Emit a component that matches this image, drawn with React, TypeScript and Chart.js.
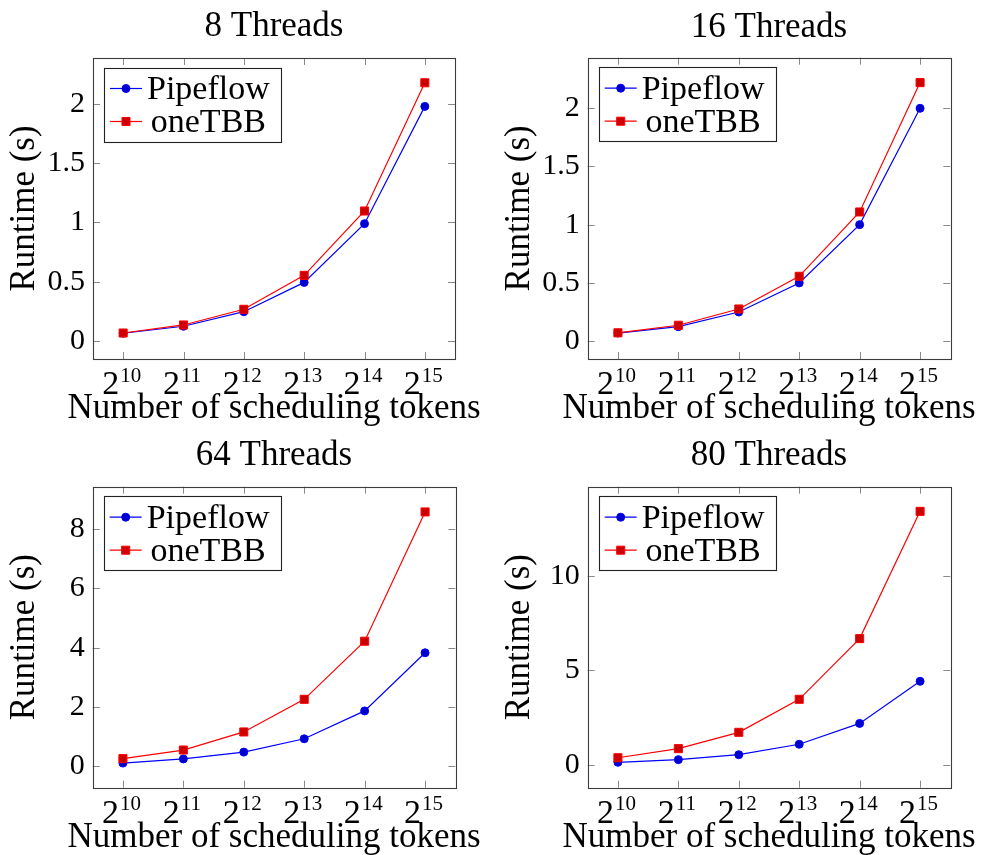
import React, { useEffect, useRef } from 'react';
import { Chart, registerables } from 'chart.js';

Chart.register(...registerables);

// ---------- data ----------
const tokenBase = '2';
const tokenExponents = ['10', '11', '12', '13', '14', '15'];
const tokenLabels = tokenExponents.map((e) => `${tokenBase}^${e}`);
const seriesNames = ['Pipeflow', 'oneTBB'];
const panelTitles = ['8 Threads', '16 Threads', '64 Threads', '80 Threads'];
const yAxisTitle = 'Runtime (s)';
const xAxisTitle = 'Number of scheduling tokens';

const pipeflow8 = [0.065, 0.124, 0.247, 0.494, 0.989, 1.978];
const onetbb8 = [0.067, 0.135, 0.267, 0.553, 1.096, 2.177];
const pipeflow16 = [0.068, 0.123, 0.249, 0.499, 1.0, 2.0];
const onetbb16 = [0.07, 0.135, 0.275, 0.556, 1.109, 2.221];
const pipeflow64 = [0.11, 0.25, 0.48, 0.93, 1.87, 3.83];
const onetbb64 = [0.26, 0.55, 1.16, 2.26, 4.22, 8.58];
const pipeflow80 = [0.16, 0.3, 0.56, 1.11, 2.21, 4.43];
const onetbb80 = [0.4, 0.88, 1.74, 3.48, 6.68, 13.39];

const yTicks8 = [0, 0.5, 1, 1.5, 2];
const yTicks16 = [0, 0.5, 1, 1.5, 2];
const yTicks64 = [0, 2, 4, 6, 8];
const yTicks80 = [0, 5, 10];

const yRange8 = [-0.152, 2.386];
const yRange16 = [-0.155, 2.435];
const yRange64 = [-0.72, 9.43];
const yRange80 = [-1.18, 14.69];

// ---------- styling / layout ----------
const FONT = "'Liberation Serif', 'Times New Roman', serif";
const BLUE = '#0000ff';
const BLUE_FILL = '#0000cc';
const RED = '#ff0000';
const RED_FILL = '#cc0000';

type PanelCfg = {
  title: string;
  pipeflow: number[];
  onetbb: number[];
  yTicks: number[];
  yRange: number[];
  left: number;
  top: number;
  width: number;
  height: number;
  areaLeft: number;
  areaRight: number;
  areaTop: number;
  areaBottom: number;
  titleBaseline: number;
  yTitleMid: number;
};

const panels: PanelCfg[] = [
  {
    title: panelTitles[0], pipeflow: pipeflow8, onetbb: onetbb8, yTicks: yTicks8, yRange: yRange8,
    left: 0, top: 0, width: 491, height: 430,
    areaLeft: 93, areaRight: 455, areaTop: 58, areaBottom: 359, titleBaseline: 39, yTitleMid: 25.2,
  },
  {
    title: panelTitles[1], pipeflow: pipeflow16, onetbb: onetbb16, yTicks: yTicks16, yRange: yRange16,
    left: 491, top: 0, width: 491, height: 430,
    areaLeft: 96.7, areaRight: 459.3, areaTop: 57.7, areaBottom: 359, titleBaseline: 39.3, yTitleMid: 28.9,
  },
  {
    title: panelTitles[2], pipeflow: pipeflow64, onetbb: onetbb64, yTicks: yTicks64, yRange: yRange64,
    left: 0, top: 430, width: 491, height: 425,
    areaLeft: 92.7, areaRight: 455.3, areaTop: 56.7, areaBottom: 357.7, titleBaseline: 37.3, yTitleMid: 25.2,
  },
  {
    title: panelTitles[3], pipeflow: pipeflow80, onetbb: onetbb80, yTicks: yTicks80, yRange: yRange80,
    left: 491, top: 430, width: 491, height: 425,
    areaLeft: 96.7, areaRight: 459.3, areaTop: 56.7, areaBottom: 357.7, titleBaseline: 37.3, yTitleMid: 28.9,
  },
];

const TITLE_SIZE = 35;
const TICK_SIZE = 30;
const XBASE_SIZE = 34;
const XEXP_SIZE = 21;
const LEGEND_SIZE = 34;

const decorPlugin = {
  id: 'pgfDecor',
  beforeDatasetsDraw(chart: any) {
    const { ctx, chartArea: a, scales } = chart;
    const x = scales.x;
    const y = scales.y;
    const L = 7;
    ctx.save();
    ctx.strokeStyle = '#8a8a8a';
    ctx.lineWidth = 1;
    ctx.beginPath();
    x.ticks.forEach((_t: any, i: number) => {
      const px = Math.round(x.getPixelForTick(i)) + 0.5;
      ctx.moveTo(px, a.bottom);
      ctx.lineTo(px, a.bottom - L);
      ctx.moveTo(px, a.top);
      ctx.lineTo(px, a.top + L);
    });
    y.ticks.forEach((t: any) => {
      const py = Math.round(y.getPixelForValue(t.value)) + 0.5;
      ctx.moveTo(a.left, py);
      ctx.lineTo(a.left + L, py);
      ctx.moveTo(a.right, py);
      ctx.lineTo(a.right - L, py);
    });
    ctx.stroke();
    ctx.restore();
  },
  afterDatasetsDraw(chart: any) {
    const { ctx, chartArea: a } = chart;
    ctx.save();
    // frame
    ctx.strokeStyle = '#3c3c3c';
    ctx.lineWidth = 1.1;
    ctx.strokeRect(Math.round(a.left) + 0.5, Math.round(a.top) + 0.5, Math.round(a.right - a.left), Math.round(a.bottom - a.top));

    // legend
    const bx = a.left + 11;
    const by = a.top + 9.5;
    ctx.font = `${LEGEND_SIZE}px ${FONT}`;
    const textW = Math.max(...seriesNames.map((s) => ctx.measureText(s).width));
    const bw = 43 + textW + 11;
    const bh = 74;
    ctx.fillStyle = '#ffffff';
    ctx.fillRect(bx, by, bw, bh);
    ctx.strokeStyle = '#222222';
    ctx.lineWidth = 1.1;
    ctx.strokeRect(Math.round(bx) + 0.5, Math.round(by) + 0.5, Math.round(bw), Math.round(bh));
    const rows = [by + 21, by + 54];
    const ds = chart.data.datasets;
    rows.forEach((ry, i) => {
      const d = ds[i];
      ctx.strokeStyle = d.borderColor;
      ctx.lineWidth = 1.2;
      ctx.beginPath();
      ctx.moveTo(bx + 6, ry);
      ctx.lineTo(bx + 38, ry);
      ctx.stroke();
      ctx.fillStyle = d.pointBackgroundColor;
      ctx.strokeStyle = d.pointBorderColor;
      ctx.lineWidth = 1;
      const mx = bx + 22;
      ctx.beginPath();
      if (d.pointStyle === 'rect') {
        const s = d.pointRadius * Math.SQRT1_2;
        ctx.rect(mx - s, ry - s, 2 * s, 2 * s);
      } else {
        ctx.arc(mx, ry, d.pointRadius, 0, Math.PI * 2);
      }
      ctx.fill();
      ctx.stroke();
      ctx.fillStyle = '#000000';
      ctx.textAlign = 'center';
      ctx.textBaseline = 'alphabetic';
      ctx.fillText(seriesNames[i], bx + 43 + textW / 2, ry + 10.5);
    });
    ctx.restore();
  },
  afterDraw(chart: any) {
    const { ctx, chartArea: a, scales } = chart;
    const x = scales.x;
    ctx.save();
    ctx.fillStyle = '#000000';
    ctx.textBaseline = 'alphabetic';
    ctx.textAlign = 'left';
    // x tick labels: base with raised exponent
    x.ticks.forEach((_t: any, i: number) => {
      const px = x.getPixelForTick(i);
      ctx.font = `${XBASE_SIZE}px ${FONT}`;
      const wb = ctx.measureText(tokenBase).width;
      ctx.font = `${XEXP_SIZE}px ${FONT}`;
      const we = ctx.measureText(tokenExponents[i]).width;
      const start = px - 1.5 - (wb + 1 + we) / 2;
      ctx.font = `${XBASE_SIZE}px ${FONT}`;
      ctx.fillText(tokenBase, start, a.bottom + 35);
      ctx.font = `${XEXP_SIZE}px ${FONT}`;
      ctx.fillText(tokenExponents[i], start + wb + 1, a.bottom + 22.5);
    });
    // x axis title
    ctx.font = `${TITLE_SIZE}px ${FONT}`;
    ctx.textAlign = 'center';
    ctx.fillText(xAxisTitle, (a.left + a.right) / 2, a.bottom + 59.3);
    ctx.restore();
  },
};

function Panel({ cfg }: { cfg: PanelCfg }) {
  const ref = useRef<HTMLCanvasElement | null>(null);
  useEffect(() => {
    if (!ref.current) return;
    const titleLH = TITLE_SIZE * 1.2;
    const titlePadTop = cfg.titleBaseline - 0.3375 * TITLE_SIZE - titleLH / 2;
    const titlePadBottom = cfg.areaTop - titleLH - titlePadTop;
    const yTitlePad = cfg.yTitleMid - (TITLE_SIZE * 1.2) / 2;
    const chart = new Chart(ref.current, {
      type: 'line',
      data: {
        labels: tokenLabels,
        datasets: [
          {
            label: seriesNames[0],
            data: cfg.pipeflow,
            borderColor: BLUE,
            backgroundColor: BLUE_FILL,
            pointBackgroundColor: BLUE_FILL,
            pointBorderColor: BLUE,
            pointStyle: 'circle',
            pointRadius: 4,
            pointBorderWidth: 1,
            borderWidth: 1.2,
            tension: 0,
            order: 1,
          },
          {
            label: seriesNames[1],
            data: cfg.onetbb,
            borderColor: RED,
            backgroundColor: RED_FILL,
            pointBackgroundColor: RED_FILL,
            pointBorderColor: RED,
            pointStyle: 'rect',
            pointRadius: 5.7,
            pointBorderWidth: 1,
            borderWidth: 1.2,
            tension: 0,
            order: 0,
          },
        ] as any,
      },
      options: {
        animation: false,
        responsive: false,
        devicePixelRatio: 1,
        events: [],
        layout: { padding: { left: 0, top: 0, right: cfg.width - cfg.areaRight, bottom: 0 } },
        plugins: {
          legend: { display: false },
          tooltip: { enabled: false },
          title: {
            display: true,
            text: cfg.title,
            fullSize: false,
            color: '#000000',
            font: { family: FONT, size: TITLE_SIZE, weight: 'normal', lineHeight: 1.2 },
            padding: { top: titlePadTop, bottom: titlePadBottom },
          },
        },
        scales: {
          x: {
            type: 'category',
            offset: true,
            grid: { display: false, drawTicks: false },
            border: { display: false },
            ticks: { display: false, autoSkip: false, maxRotation: 0 },
            afterFit: (s: any) => {
              s.height = cfg.height - cfg.areaBottom;
            },
          },
          y: {
            type: 'linear',
            min: cfg.yRange[0],
            max: cfg.yRange[1],
            bounds: 'data',
            grid: { display: false, drawTicks: false },
            border: { display: false },
            ticks: {
              color: '#000000',
              font: { family: FONT, size: TICK_SIZE, lineHeight: 1.2 },
              padding: 8,
              callback: (v: any) => String(v),
            },
            afterBuildTicks: (s: any) => {
              s.ticks = cfg.yTicks.map((v) => ({ value: v }));
            },
            afterFit: (s: any) => {
              s.width = cfg.areaLeft;
            },
            title: {
              display: true,
              text: yAxisTitle,
              color: '#000000',
              font: { family: FONT, size: TITLE_SIZE, lineHeight: 1.2 },
              padding: { top: yTitlePad, bottom: 0 },
            },
          },
        },
      } as any,
      plugins: [decorPlugin],
    });
    return () => chart.destroy();
  }, [cfg]);
  return (
    <canvas
      ref={ref}
      width={cfg.width}
      height={cfg.height}
      style={{ position: 'absolute', left: cfg.left, top: cfg.top, width: cfg.width, height: cfg.height }}
    />
  );
}

export default function App() {
  return (
    <div style={{ position: 'absolute', left: 0, top: 0, width: 982, height: 855, background: '#ffffff', overflow: 'hidden' }}>
      {panels.map((p, i) => (
        <Panel key={i} cfg={p} />
      ))}
    </div>
  );
}
